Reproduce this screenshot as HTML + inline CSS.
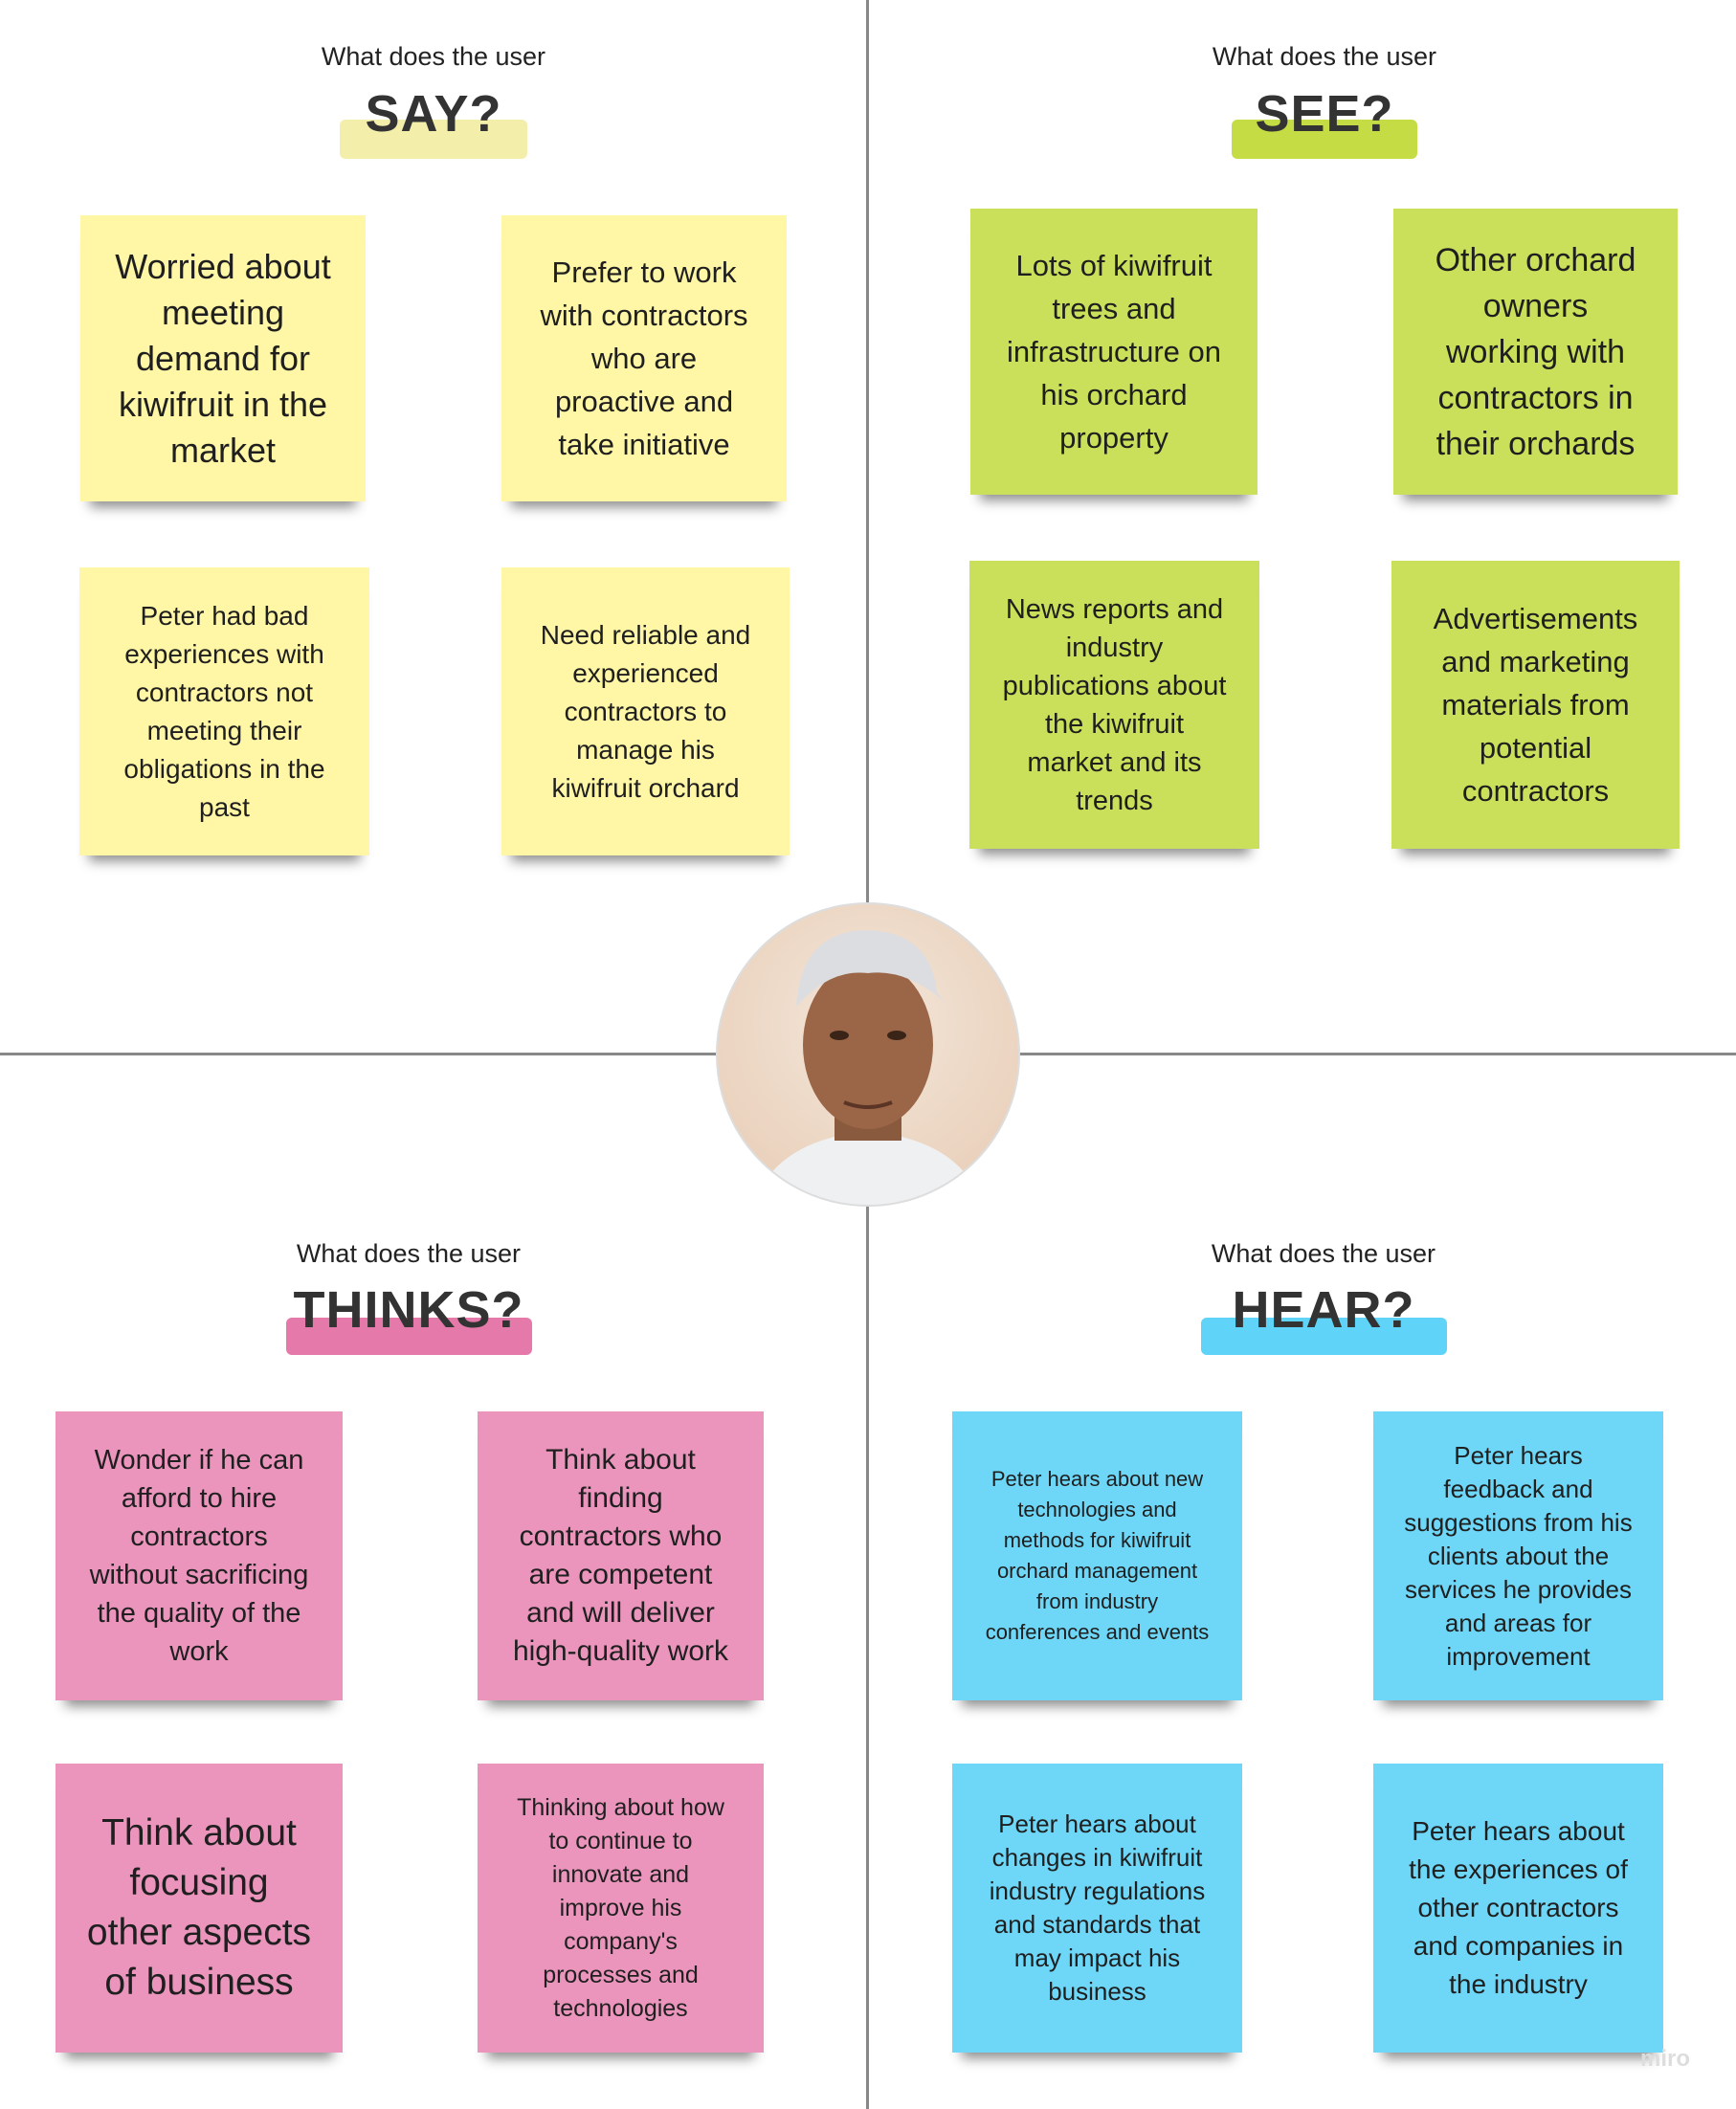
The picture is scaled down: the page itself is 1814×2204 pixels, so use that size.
<!DOCTYPE html>
<html><head><meta charset="utf-8"><style>
*{margin:0;padding:0;box-sizing:border-box}
body{width:1814px;height:2204px;background:#fff;position:relative;overflow:hidden;font-family:"Liberation Sans",sans-serif;color:#1f1f1f}
.v{position:absolute;left:905px;top:0;width:3px;height:2204px;background:#888}
.h{position:absolute;left:0;top:1100px;width:1814px;height:3px;background:#888}
.q{position:absolute;width:400px;text-align:center;font-size:27px;color:#222}
.hl{position:absolute;border-radius:6px}
.t{position:absolute;width:400px;text-align:center;font-weight:bold;font-size:54px;color:#333;letter-spacing:1px}
.n{position:absolute;display:flex;align-items:center;justify-content:center;text-align:center;padding:0 32px;box-shadow:0 16px 12px -10px rgba(0,0,0,.45)}
.y{background:#fff6a6}.g{background:#cbe05a}.p{background:#eb95bd}.b{background:#6ed7f8}
.miro{position:absolute;left:1714px;top:2138px;font-size:24px;color:#ddd;font-weight:bold}
</style></head><body>
<div class="v"></div><div class="h"></div>

<div class="hl" style="left:355px;top:125px;width:196px;height:41px;background:#f3eeaa"></div>
<div class="q" style="left:253px;top:44px">What does the user</div>
<div class="t" style="left:253px;top:88px">SAY?</div>

<div class="hl" style="left:1287px;top:125px;width:194px;height:41px;background:#c5dc45"></div>
<div class="q" style="left:1184px;top:44px">What does the user</div>
<div class="t" style="left:1184px;top:88px">SEE?</div>

<div class="hl" style="left:299px;top:1377px;width:257px;height:39px;background:#e57aaa"></div>
<div class="q" style="left:227px;top:1295px">What does the user</div>
<div class="t" style="left:227px;top:1338px">THINKS?</div>

<div class="hl" style="left:1255px;top:1377px;width:257px;height:39px;background:#5fd4f8"></div>
<div class="q" style="left:1183px;top:1295px">What does the user</div>
<div class="t" style="left:1183px;top:1338px">HEAR?</div>

<div class="n y" style="left:84px;top:225px;width:298px;height:299px;font-size:36px;line-height:48px">Worried about meeting demand for kiwifruit in the market</div>
<div class="n y" style="left:524px;top:225px;width:298px;height:299px;font-size:31px;line-height:45px">Prefer to work with contractors who are proactive and take initiative</div>
<div class="n y" style="left:83px;top:593px;width:303px;height:301px;font-size:28px;line-height:40px">Peter had bad experiences with contractors not meeting their obligations in the past</div>
<div class="n y" style="left:524px;top:593px;width:301px;height:301px;font-size:28px;line-height:40px">Need reliable and experienced contractors to manage his kiwifruit orchard</div>

<div class="n g" style="left:1014px;top:218px;width:300px;height:299px;font-size:31px;line-height:45px">Lots of kiwifruit trees and infrastructure on his orchard property</div>
<div class="n g" style="left:1456px;top:218px;width:297px;height:299px;font-size:34px;line-height:48px">Other orchard owners working with contractors in their orchards</div>
<div class="n g" style="left:1013px;top:586px;width:303px;height:301px;font-size:29px;line-height:40px">News reports and industry publications about the kiwifruit market and its trends</div>
<div class="n g" style="left:1454px;top:586px;width:301px;height:301px;font-size:31px;line-height:45px">Advertisements and marketing materials from potential contractors</div>

<div class="n p" style="left:58px;top:1475px;width:300px;height:302px;font-size:29px;line-height:40px">Wonder if he can afford to hire contractors without sacrificing the quality of the work</div>
<div class="n p" style="left:499px;top:1475px;width:299px;height:302px;font-size:30px;line-height:40px">Think about finding contractors who are competent and will deliver high-quality work</div>
<div class="n p" style="left:58px;top:1843px;width:300px;height:302px;font-size:39px;line-height:52px">Think about focusing other aspects of business</div>
<div class="n p" style="left:499px;top:1843px;width:299px;height:302px;font-size:25px;line-height:35px">Thinking about how to continue to innovate and improve his company's processes and technologies</div>

<div class="n b" style="left:995px;top:1475px;width:303px;height:302px;font-size:22px;line-height:32px">Peter hears about new technologies and methods for kiwifruit orchard management from industry conferences and events</div>
<div class="n b" style="left:1435px;top:1475px;width:303px;height:302px;font-size:26px;line-height:35px">Peter hears feedback and suggestions from his clients about the services he provides and areas for improvement</div>
<div class="n b" style="left:995px;top:1843px;width:303px;height:302px;font-size:26px;line-height:35px">Peter hears about changes in kiwifruit industry regulations and standards that may impact his business</div>
<div class="n b" style="left:1435px;top:1843px;width:303px;height:302px;font-size:28px;line-height:40px">Peter hears about the experiences of other contractors and companies in the industry</div>

<svg style="position:absolute;left:747px;top:942px" width="320" height="320" viewBox="0 0 320 320">
<defs><clipPath id="c"><circle cx="160" cy="160" r="158"/></clipPath>
<radialGradient id="bg" cx="50%" cy="40%" r="70%"><stop offset="0" stop-color="#f3e6da"/><stop offset="1" stop-color="#e8cdb6"/></radialGradient></defs>
<g clip-path="url(#c)">
<rect width="320" height="320" fill="url(#bg)"/>
<path d="M40 320 Q60 250 160 240 Q260 250 280 320Z" fill="#eef0f2"/>
<rect x="125" y="180" width="70" height="70" fill="#8a5a3e"/>
<ellipse cx="160" cy="150" rx="68" ry="88" fill="#9a6647"/>
<path d="M85 110 Q90 30 160 30 Q225 32 232 95 L240 105 Q200 70 160 75 Q120 70 85 110Z" fill="#dcdde0"/>
<ellipse cx="130" cy="140" rx="10" ry="5" fill="#3a2418"/>
<ellipse cx="190" cy="140" rx="10" ry="5" fill="#3a2418"/>
<path d="M135 210 Q160 220 185 210" stroke="#5a3526" stroke-width="4" fill="none"/>
</g>
<circle cx="160" cy="160" r="158" fill="none" stroke="#ddd" stroke-width="2"/>
</svg>
<div class="miro">miro</div>
</body></html>
